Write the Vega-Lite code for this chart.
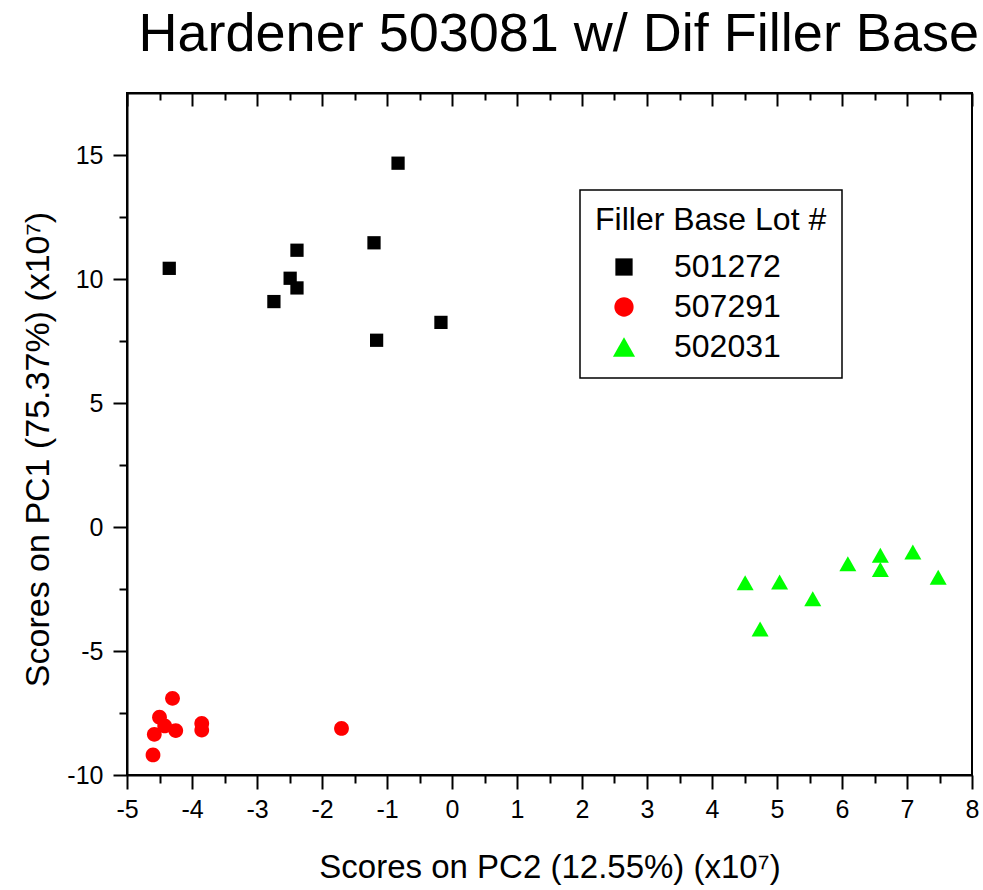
{
  "$schema": "https://vega.github.io/schema/vega-lite/v6.json",
  "width": 845,
  "height": 682,
  "autosize": {"type": "none"},
  "padding": {"left": 127, "top": 93, "right": 11, "bottom": 115},
  "background": "white",
  "config": {
    "font": "Liberation Sans",
    "view": {"stroke": "black", "strokeWidth": 2},
    "axis": {"grid": false}
  },
  "title": {
    "text": "Hardener 503081 w/ Dif Filler Base",
    "anchor": "end",
    "fontSize": 54,
    "fontWeight": "normal",
    "font": "Liberation Sans",
    "color": "black",
    "offset": 30
  },
  "data": {
    "values": [
      {"lot": "501272", "pc2": -0.83, "pc1": 14.67},
      {"lot": "501272", "pc2": -1.20, "pc1": 11.46},
      {"lot": "501272", "pc2": -2.385, "pc1": 11.16},
      {"lot": "501272", "pc2": -4.35, "pc1": 10.43},
      {"lot": "501272", "pc2": -2.49, "pc1": 10.03},
      {"lot": "501272", "pc2": -2.385, "pc1": 9.64},
      {"lot": "501272", "pc2": -2.74, "pc1": 9.09},
      {"lot": "501272", "pc2": -0.17, "pc1": 8.25},
      {"lot": "501272", "pc2": -1.16, "pc1": 7.53},
      {"lot": "507291", "pc2": -4.30, "pc1": -6.91},
      {"lot": "507291", "pc2": -4.50, "pc1": -7.67},
      {"lot": "507291", "pc2": -4.42, "pc1": -8.02},
      {"lot": "507291", "pc2": -4.58, "pc1": -8.36},
      {"lot": "507291", "pc2": -4.25, "pc1": -8.21},
      {"lot": "507291", "pc2": -3.85, "pc1": -7.92},
      {"lot": "507291", "pc2": -3.85, "pc1": -8.19},
      {"lot": "507291", "pc2": -1.70, "pc1": -8.12},
      {"lot": "507291", "pc2": -4.60, "pc1": -9.19},
      {"lot": "502031", "pc2": 4.51, "pc1": -2.25},
      {"lot": "502031", "pc2": 5.04, "pc1": -2.22},
      {"lot": "502031", "pc2": 4.74, "pc1": -4.11},
      {"lot": "502031", "pc2": 5.55, "pc1": -2.89},
      {"lot": "502031", "pc2": 6.09, "pc1": -1.48},
      {"lot": "502031", "pc2": 6.59, "pc1": -1.14},
      {"lot": "502031", "pc2": 6.59, "pc1": -1.71},
      {"lot": "502031", "pc2": 7.09, "pc1": -1.01},
      {"lot": "502031", "pc2": 7.48, "pc1": -2.03}
    ]
  },
  "resolve": {"axis": {"x": "independent"}},
  "layer": [
    {
      "mark": {"type": "point", "filled": true, "opacity": 1, "strokeWidth": 0, "size": 289},
      "encoding": {
        "x": {
          "field": "pc2", "type": "quantitative",
          "scale": {"domain": [-5, 8], "nice": false, "zero": false},
          "axis": {
            "orient": "bottom",
            "title": "Scores on PC2 (12.55%) (x10⁷)",
            "titleFontSize": 33, "titleFontWeight": "normal", "titleColor": "black",
            "titleBaseline": "alphabetic", "titleY": 102,
            "values": [-5,-4.5,-4,-3.5,-3,-2.5,-2,-1.5,-1,-0.5,0,0.5,1,1.5,2,2.5,3,3.5,4,4.5,5,5.5,6,6.5,7,7.5,8],
            "labelExpr": "datum.value % 1 === 0 ? toString(datum.value) : ''",
            "labelFontSize": 25, "labelColor": "black", "labelPadding": 8,
            "labelFlush": false, "labelOverlap": false,
            "tickSize": {"condition": {"test": "datum.value % 1 === 0", "value": 14}, "value": 8},
            "tickWidth": 2, "tickColor": "black",
            "domainColor": "black", "domainWidth": 2
          }
        },
        "y": {
          "field": "pc1", "type": "quantitative",
          "scale": {"domain": [-10, 17.5], "nice": false, "zero": false},
          "axis": {
            "orient": "left",
            "title": "Scores on PC1 (75.37%) (x10⁷)",
            "titleFontSize": 34, "titleFontWeight": "normal", "titleColor": "black",
            "titleAngle": -90, "titleBaseline": "alphabetic", "titleAlign": "center",
            "titleX": -79, "titleY": 356,
            "values": [-10,-7.5,-5,-2.5,0,2.5,5,7.5,10,12.5,15],
            "labelExpr": "datum.value % 5 === 0 ? toString(datum.value) : ''",
            "labelFontSize": 25, "labelColor": "black", "labelPadding": 10,
            "labelFlush": false, "labelOverlap": false,
            "tickSize": {"condition": {"test": "datum.value % 5 === 0", "value": 14}, "value": 8},
            "tickWidth": 2, "tickColor": "black",
            "domainColor": "black", "domainWidth": 2
          }
        },
        "color": {
          "field": "lot", "type": "nominal",
          "sort": ["501272", "507291", "502031"],
          "scale": {"domain": ["501272", "507291", "502031"], "range": ["#000000", "#ff0000", "#00ff00"]},
          "legend": {
            "orient": "none", "legendX": 453, "legendY": 97,
            "title": "Filler Base Lot #",
            "titleFontSize": 32, "titleFontWeight": "normal", "titleColor": "black", "titleLimit": 400,
            "labelFontSize": 32, "labelColor": "black", "labelLimit": 300,
            "strokeColor": "black", "fillColor": "white", "cornerRadius": 0,
            "padding": 15, "symbolOffset": 13, "labelOffset": 34, "rowPadding": 8, "titlePadding": 14,
            "symbolSize": 490, "symbolStrokeWidth": 0, "symbolOpacity": 1,
            "encode": {
              "legend": {"update": {"strokeWidth": {"value": 1.5}}}
            }
          }
        },
        "shape": {
          "field": "lot", "type": "nominal",
          "sort": ["501272", "507291", "502031"],
          "scale": {
            "domain": ["501272", "507291", "502031"],
            "range": [
              "M-0.78,-0.78L0.78,-0.78L0.78,0.78L-0.78,0.78Z",
              "M0.87,0A0.87,0.87 0 1,1 -0.87,0A0.87,0.87 0 1,1 0.87,0Z",
              "M0,-0.88L1,0.88L-1,0.88Z"
            ]
          }
        }
      }
    },
    {
      "mark": {"type": "point", "opacity": 0},
      "encoding": {
        "x": {
          "field": "pc2", "type": "quantitative",
          "scale": {"domain": [-5, 8], "nice": false, "zero": false},
          "axis": {
            "orient": "top", "title": null, "labels": false,
            "values": [-5,-4.5,-4,-3.5,-3,-2.5,-2,-1.5,-1,-0.5,0,0.5,1,1.5,2,2.5,3,3.5,4,4.5,5,5.5,6,6.5,7,7.5,8],
            "tickSize": {"condition": {"test": "datum.value % 1 === 0", "value": -13}, "value": -7},
            "tickWidth": 2, "tickColor": "black",
            "domainColor": "black", "domainWidth": 2
          }
        },
        "y": {"field": "pc1", "type": "quantitative"}
      }
    }
  ]
}
